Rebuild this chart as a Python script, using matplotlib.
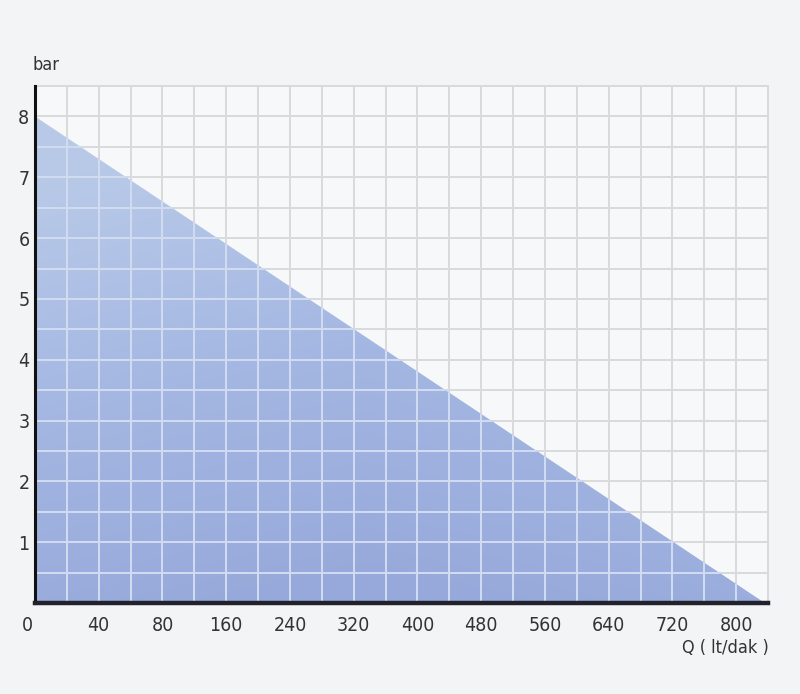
import matplotlib
matplotlib.use("Agg")
import matplotlib.pyplot as plt
import numpy as np
from matplotlib.colors import LinearSegmentedColormap
from matplotlib.patches import Polygon
from matplotlib.ticker import MultipleLocator
from matplotlib.transforms import ScaledTranslation

# x axis is in grid cells; labels are the printed Q values (lt/dak)
q_tick_pos = [0, 2, 4, 6, 8, 10, 12, 14, 16, 18, 20, 22]
q_tick_labels = ["0", "40", "80", "160", "240", "320", "400", "480", "560", "640", "720", "800"]
p_tick_pos = [1, 2, 3, 4, 5, 6, 7, 8]
p_tick_labels = ["1", "2", "3", "4", "5", "6", "7", "8"]

# pump curve: pressure (bar) against flow position
curve_q = [0.0, 22.9]
curve_p = [8.0, 0.0]

x_max = 23
y_max = 8.5

font = ["Liberation Sans Narrow", "DejaVu Sans"]
text_color = "#333333"

fig = plt.figure(figsize=(8, 6.94), dpi=100, facecolor="#f3f4f6")
ax = fig.add_axes([0.04375, 0.1311, 0.91625, 0.7449])
ax.set_facecolor("#f7f8fa")
ax.set_xlim(0, x_max)
ax.set_ylim(0, y_max)

# light grey grid under the fill
ax.xaxis.set_minor_locator(MultipleLocator(1))
ax.yaxis.set_minor_locator(MultipleLocator(0.5))
ax.grid(which="both", color="#d9dadc", linewidth=1.4, zorder=0)
ax.set_axisbelow(True)

# gradient fill under the curve, lighter at the top
poly_pts = list(zip(curve_q, curve_p)) + [(curve_q[-1], 0), (0, 0)]
poly = Polygon(poly_pts, closed=True, facecolor="none", edgecolor="none")
ax.add_patch(poly)
cmap = LinearSegmentedColormap.from_list("fill", ["#96a9da", "#a4b7e2", "#b8c9e8"])
yy, xx = np.mgrid[0:1:200j, 0:1:200j]
grad = np.clip(yy * 1.1 + 0.35 * np.abs(xx - 0.45) - 0.05, 0, 1)
im = ax.imshow(grad, extent=[0, x_max, 0, y_max], origin="lower", cmap=cmap,
               aspect="auto", zorder=1, vmin=0.0, vmax=1.0)
im.set_clip_path(poly)

# lighter grid lines on top of the fill
vl = ax.vlines(np.arange(1, x_max), 0, y_max, colors="#d2dcf1", linewidth=1.4, zorder=2)
hl = ax.hlines(np.arange(0.5, y_max, 0.5), 0, x_max, colors="#d2dcf1", linewidth=1.4, zorder=2)
vl.set_clip_path(poly)
hl.set_clip_path(poly)

ax.set_xticks(q_tick_pos)
ax.set_xticklabels(q_tick_labels)
ax.set_yticks(p_tick_pos)
ax.set_yticklabels(p_tick_labels)
ax.tick_params(axis="both", which="both", length=0, colors=text_color, labelsize=14)
ax.tick_params(axis="x", pad=9)
ax.tick_params(axis="y", pad=4)
for lab in ax.get_xticklabels() + ax.get_yticklabels():
    lab.set_family(font)
    lab.set_stretch("condensed")
# the "0" sits left of the axis
ax.get_xticklabels()[0].set_transform(
    ax.get_xticklabels()[0].get_transform() + ScaledTranslation(-8 / 100, 0, fig.dpi_scale_trans))

for side in ["top", "right"]:
    ax.spines[side].set_color("#d9dadc")
    ax.spines[side].set_linewidth(1.4)
ax.spines["left"].set_color("#111111")
ax.spines["left"].set_linewidth(2.2)
ax.spines["bottom"].set_color("#22222c")
ax.spines["bottom"].set_linewidth(3.2)
for side in ["left", "bottom"]:
    ax.spines[side].set_zorder(3)

fig.text(0.041, 0.906, "bar", ha="left", va="center", fontsize=13, color=text_color,
         family=font, stretch="condensed")
fig.text(0.961, 0.066, "Q ( lt/dak )", ha="right", va="center", fontsize=13, color=text_color,
         family=font, stretch="condensed")

fig.savefig("out.png", dpi=100, facecolor=fig.get_facecolor())
